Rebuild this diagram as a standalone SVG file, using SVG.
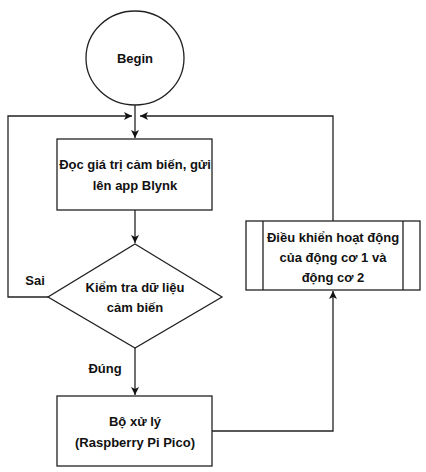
<svg xmlns="http://www.w3.org/2000/svg" width="426" height="472" viewBox="0 0 426 472">
<style>
.s{fill:#fff;stroke:#222;stroke-width:1.3}
.c{fill:none;stroke:#222;stroke-width:1.3}
text{font-family:"Liberation Sans",Arial,sans-serif;font-size:13px;font-weight:bold;fill:#111;text-anchor:middle}
</style>
<defs>
<marker id="a" markerWidth="10" markerHeight="10" refX="8" refY="4" orient="auto" markerUnits="userSpaceOnUse">
<path d="M0,0 L8,4 L0,8 L2,4 Z" fill="#111"/>
</marker>
</defs>
<rect width="426" height="472" fill="#fff"/>
<g id="connectors">
<path class="c" d="M135,105 V138" marker-end="url(#a)"/>
<path class="c" d="M48,297 H8 V116 H132" marker-end="url(#a)"/>
<path class="c" d="M333,221 V116 H140" marker-end="url(#a)"/>
<path class="c" d="M135,210 V243" marker-end="url(#a)"/>
<path class="c" d="M135,348 V395" marker-end="url(#a)"/>
<path class="c" d="M212,431 H333 V291" marker-end="url(#a)"/>
</g>
<g id="begin">
<ellipse class="s" cx="135" cy="58" rx="49" ry="47"/>
<text x="135" y="63">Begin</text>
</g>
<g id="read">
<rect class="s" x="57" y="139" width="155" height="71"/>
<text x="135" y="169">Đọc giá trị cảm biến, gửi</text>
<text x="135" y="190">lên app Blynk</text>
</g>
<g id="check">
<polygon class="s" points="135,244 222,297 135,348 48,297"/>
<text x="135" y="292">Kiểm tra dữ liệu</text>
<text x="135" y="312">cảm biến</text>
</g>
<g id="labels">
<text x="35" y="285">Sai</text>
<text x="105" y="373">Đúng</text>
</g>
<g id="cpu">
<rect class="s" x="57" y="396" width="155" height="70"/>
<text x="135" y="426">Bộ xử lý</text>
<text x="135" y="447">(Raspberry Pi Pico)</text>
</g>
<g id="motor">
<rect class="s" x="246" y="221" width="174" height="69"/>
<path class="c" d="M263,221 V290 M403,221 V290"/>
<text x="333" y="242">Điều khiển hoạt động</text>
<text x="333" y="262">của động cơ 1 và</text>
<text x="333" y="282">động cơ 2</text>
</g>
</svg>
